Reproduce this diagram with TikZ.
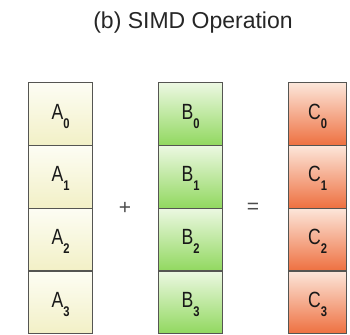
\documentclass[tikz,border=0pt]{standalone}
\usepackage{fontspec}
\setmainfont{Liberation Sans}
\definecolor{aTop}{RGB}{253,253,244}
\definecolor{aBot}{RGB}{242,240,198}
\definecolor{bTop}{RGB}{236,248,226}
\definecolor{bBot}{RGB}{145,216,95}
\definecolor{cTop}{RGB}{252,230,218}
\definecolor{cBot}{RGB}{238,112,64}
\definecolor{edge}{RGB}{85,85,82}
\newcommand{\celltext}[2]{\scalebox{0.8}[1]{#1\raisebox{-9pt}{\fontsize{14}{14}\selectfont\bfseries #2}}}
\begin{document}
\begin{tikzpicture}[x=1pt,y=-1pt,
  cell/.style={draw=edge, line width=1.4pt, minimum height=62.75pt, inner sep=0pt, anchor=north west},
  cellA/.style={cell, minimum width=64pt, top color=aTop, bottom color=aBot},
  cellB/.style={cell, minimum width=64pt, top color=bTop, bottom color=bBot},
  cellC/.style={cell, minimum width=58pt, top color=cTop, bottom color=cBot},
  lbl/.style={anchor=base, inner sep=0pt, font=\fontsize{22}{22}\selectfont, text=black!90},
  op/.style={inner sep=0pt, font=\fontsize{21}{21}\selectfont, text=black!70},
  title/.style={anchor=base, inner sep=0pt, font=\fontsize{23}{23}\selectfont, text=black!85}]
\useasboundingbox (0,0) rectangle (350,334);
\node[title] (t) at (193,29) {(b) SIMD Operation};
\foreach \i in {0,1,2,3}{
  \node[cellA] (a\i) at (28,82+62.75*\i) {};
  \node[cellB] (b\i) at (158,82+62.75*\i) {};
  \node[cellC] (c\i) at (288,82+62.75*\i) {};
  \node[lbl] (la\i) at ([yshift=-5pt]a\i.center) {\celltext{A}{\i}};
  \node[lbl] (lb\i) at ([yshift=-5pt]b\i.center) {\celltext{B}{\i}};
  \node[lbl] (lc\i) at ([yshift=-5pt]c\i.center) {\celltext{C}{\i}};
}
\node[op] (plus) at (125,208) {+};
\node[op] (eq) at (253,208) {=};
\end{tikzpicture}
\end{document}
